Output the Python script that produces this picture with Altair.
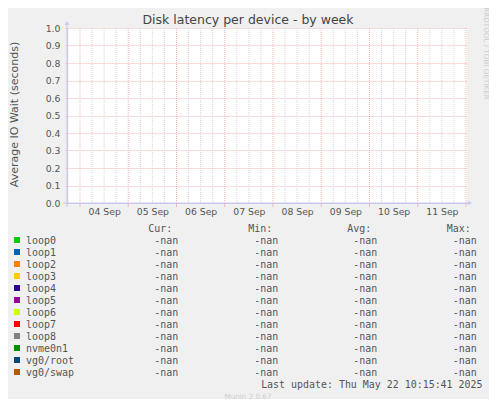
import altair as alt
import pandas as pd

# ---------------- data ----------------
devices = ["loop0", "loop1", "loop2", "loop3", "loop4", "loop5", "loop6",
           "loop7", "loop8", "nvme0n1", "vg0/root", "vg0/swap"]
colors = ["#00CC00", "#0066B3", "#FF8000", "#FFCC00", "#330099", "#990099",
          "#CCFF00", "#FF0000", "#808080", "#008F00", "#00487D", "#B35A00"]
cur_vals = ["-nan", "-nan", "-nan", "-nan", "-nan", "-nan", "-nan", "-nan", "-nan", "-nan", "-nan", "-nan"]
min_vals = ["-nan", "-nan", "-nan", "-nan", "-nan", "-nan", "-nan", "-nan", "-nan", "-nan", "-nan", "-nan"]
avg_vals = ["-nan", "-nan", "-nan", "-nan", "-nan", "-nan", "-nan", "-nan", "-nan", "-nan", "-nan", "-nan"]
max_vals = ["-nan", "-nan", "-nan", "-nan", "-nan", "-nan", "-nan", "-nan", "-nan", "-nan", "-nan", "-nan"]
# series values (all unknown / NaN in the source graph)
series_values = [None, None, None, None, None, None, None, None, None, None, None, None]
y_ticks = [0.0, 0.1, 0.2, 0.3, 0.4, 0.5, 0.6, 0.7, 0.8, 0.9, 1.0]

title_text = "Disk latency per device - by week"
y_title = "Average IO Wait (seconds)"
last_update = "Last update: Thu May 22 10:15:41 2025"
side_text = "RRDTOOL / TOBI OETIKER"
munin_text = "Munin 2.0.67"

# ---------------- styling ----------------
BG = "#F0F0F0"
TXT = "#555555"
MAJOR = "#F0B6B6"
MINOR = "#D6D6D6"
AXIS = "#C8C8F0"
SANS = "DejaVu Sans"
MONO = "DejaVu Sans Mono"
LEG_SIZE = 9.95

x_domain = [alt.DateTime(year=2025, month=9, date=3, hours=17, minutes=32, utc=True),
            alt.DateTime(year=2025, month=9, date=12, hours=0, minutes=30, utc=True)]
xscale = alt.Scale(type="utc", domain=x_domain)
yscale = alt.Scale(domain=[0, 1], nice=False, zero=False)

midnights = pd.date_range("2025-09-04", "2025-09-12", freq="D", tz="UTC")
six_hours = [t for t in pd.date_range("2025-09-03 18:00", "2025-09-12 00:00", freq="6h", tz="UTC") if t.hour != 0]
noons = [alt.DateTime(year=2025, month=9, date=d, hours=12, utc=True) for d in range(4, 12)]

df_major = pd.DataFrame({"t": midnights})
df_minor = pd.DataFrame({"t": six_hours})
one = pd.DataFrame({"a": [0]})

# NaN series (nothing visible, as in the original)
df_series = pd.DataFrame({
    "t": [pd.Timestamp("2025-09-11 12:00", tz="UTC")] * len(devices),
    "device": devices,
    "v": series_values,
})

# ---------------- plot layers ----------------
minor_grid = alt.Chart(df_minor).mark_rule(color=MINOR, strokeDash=[1, 1], strokeWidth=1).encode(
    x=alt.X("t:T", scale=xscale,
            axis=alt.Axis(values=noons, format="%d %b", ticks=False, grid=False, title=None,
                          domainColor=AXIS, labelColor=TXT, labelFont=SANS, labelFontSize=9.3,
                          labelPadding=4)),
    y=alt.value(0), y2=alt.value(175),
)

major_grid = alt.Chart(df_major).mark_rule(color=MAJOR, strokeDash=[1, 1], strokeWidth=1).encode(
    x=alt.X("t:T", scale=xscale), y=alt.value(0), y2=alt.value(175),
)

major_ticks = alt.Chart(df_major).mark_rule(color=MAJOR, strokeWidth=1).encode(
    x=alt.X("t:T", scale=xscale), y=alt.value(175), y2=alt.value(179),
)

series = alt.Chart(df_series).mark_line().encode(
    x=alt.X("t:T", scale=xscale),
    y=alt.Y("v:Q", scale=yscale,
            axis=alt.Axis(values=y_ticks, format=".1f", grid=True, gridColor=MAJOR, gridDash=[1, 1],
                          tickColor=MAJOR, tickSize=2, labelPadding=5, domainColor=AXIS,
                          labelColor=TXT, labelFont=SANS, labelFontSize=9.3,
                          title=y_title, titleFont=SANS, titleFontSize=11, titleFontWeight="normal",
                          titleColor=TXT, titleX=-53, titleY=86, titleAngle=270,
                          titleAlign="center", titleBaseline="middle")),
    color=alt.Color("device:N", scale=alt.Scale(domain=devices, range=colors), legend=None),
)

# axis extensions + arrows
y_ext = alt.Chart(one).mark_rule(color=AXIS).encode(x=alt.value(0), y=alt.value(-5), y2=alt.value(179))
x_ext = alt.Chart(one).mark_rule(color=AXIS).encode(x=alt.value(-4), x2=alt.value(402), y=alt.value(175))
y_arrow = alt.Chart(one).mark_point(shape="triangle-up", filled=True, size=22, color=AXIS, opacity=1).encode(
    x=alt.value(0), y=alt.value(-5))
x_arrow = alt.Chart(one).mark_point(shape="triangle-right", filled=True, size=22, color=AXIS, opacity=1).encode(
    x=alt.value(403), y=alt.value(175))

# ---------------- texts ----------------
title = alt.Chart(pd.DataFrame({"s": [title_text]})).mark_text(
    font=SANS, fontSize=12.5, color="#444444", baseline="middle", align="center").encode(
    text="s:N", x=alt.value(181), y=alt.value(-8.5))

side = alt.Chart(pd.DataFrame({"s": [side_text]})).mark_text(
    font=SANS, fontSize=7.2, color="#CDCDCD", baseline="middle", align="center", angle=90).encode(
    text="s:N", x=alt.value(418.5), y=alt.value(25.5))

munin = alt.Chart(pd.DataFrame({"s": [munin_text]})).mark_text(
    font=SANS, fontSize=7.2, color="#CDCDCD", baseline="middle", align="center").encode(
    text="s:N", x=alt.value(181), y=alt.value(368.5))

lastupd = alt.Chart(pd.DataFrame({"s": [last_update]})).mark_text(
    font=MONO, fontSize=LEG_SIZE, color=TXT, baseline="middle", align="right").encode(
    text="s:N", x=alt.value(415.5), y=alt.value(356.5))

ROW0 = 212.6
ROWSTEP = 12.0
df_leg = pd.DataFrame({"device": devices, "color": colors,
                       "Cur": cur_vals, "Min": min_vals, "Avg": avg_vals, "Max": max_vals})
df_leg["py"] = ROW0 + ROWSTEP * df_leg.index
df_leg["sq"] = df_leg["py"] - 0.6

squares = alt.Chart(df_leg).mark_square(size=36, opacity=1, filled=True).encode(
    x=alt.value(-50), y=alt.Y("sq:Q", scale=None),
    color=alt.Color("color:N", scale=None))
names = alt.Chart(df_leg).mark_text(font=MONO, fontSize=LEG_SIZE, color=TXT, align="left",
                                    baseline="middle").encode(
    x=alt.value(-41), y=alt.Y("py:Q", scale=None), text="device:N")

col_right = {"Cur": 111.3, "Min": 211.3, "Avg": 310.3, "Max": 409.8}
head_right = {"Cur": 105.3, "Min": 205.3, "Avg": 304.3, "Max": 403.8}
stat_layers = []
for col in ["Cur", "Min", "Avg", "Max"]:
    stat_layers.append(
        alt.Chart(df_leg).mark_text(font=MONO, fontSize=LEG_SIZE, color=TXT, align="right",
                                    baseline="middle").encode(
            x=alt.value(col_right[col]), y=alt.Y("py:Q", scale=None), text=f"{col}:N"))
    stat_layers.append(
        alt.Chart(pd.DataFrame({"s": [col + ":"]})).mark_text(
            font=MONO, fontSize=LEG_SIZE, color=TXT, align="right", baseline="middle").encode(
            x=alt.value(head_right[col]), y=alt.value(201.2), text="s:N"))

chart = alt.layer(
    minor_grid, major_grid, series, major_ticks, y_ext, x_ext, y_arrow, x_arrow,
    title, side, munin, lastupd, squares, names, *stat_layers,
).properties(
    width=400, height=175,
    autosize=alt.AutoSizeParams(type="none"),
    padding={"left": 59, "top": 20, "right": 22, "bottom": 196},
    background=BG,
).configure_view(fill="white", strokeWidth=0)

chart.save("out.html", embed_options={"renderer": "svg", "actions": False})
